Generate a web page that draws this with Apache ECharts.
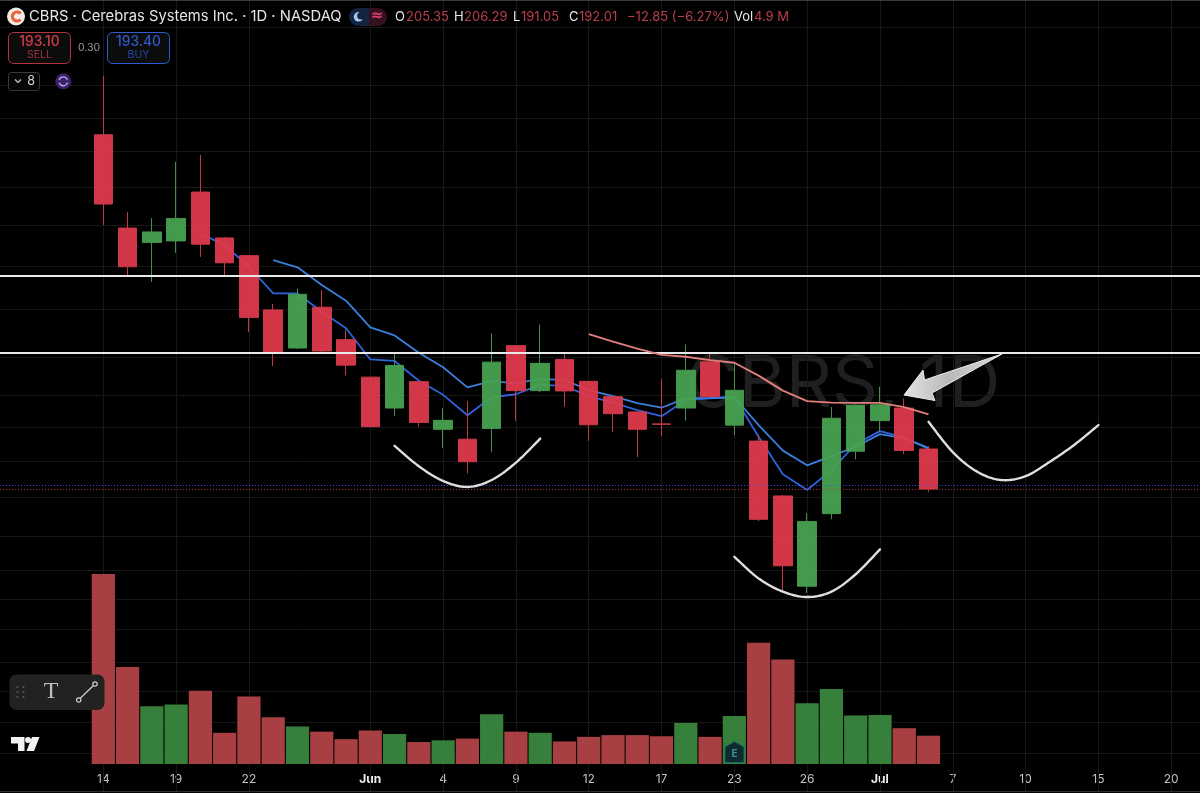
<!DOCTYPE html>
<html>
<head>
<meta charset="utf-8">
<title>CBRS daily</title>
<style>html,body{margin:0;padding:0;background:#000}#chart{width:1200px;height:793px}</style>
<script src="https://cdn.jsdelivr.net/npm/echarts@6/dist/echarts.min.js"></script>
</head>
<body>
<div id="chart"></div>
<script>
// Session dates; the first entries only pad the left edge, the last ones are the empty future.
const leadDays = ['05-08','05-11','05-12','05-13'];
const days = ['05-14','05-15','05-18','05-19','05-20','05-21','05-22','05-26','05-27','05-28','05-29',
  '06-01','06-02','06-03','06-04','06-05','06-08','06-09','06-10','06-11','06-12','06-15','06-16','06-17','06-18',
  '06-22','06-23','06-24','06-25','06-26','06-29','06-30','07-01','07-02','07-06'];
const futureDays = ['07-07','07-08','07-09','07-10','07-13','07-14','07-15','07-16','07-17','07-20','07-21','07-22'];

const tickDates = ['05-14','05-19','05-22','06-01','06-04','06-09','06-12','06-17','06-23','06-26','07-01','07-07','07-10','07-15','07-20'];
const tickLabels = ['14','19','22','Jun','4','9','12','17','23','26','Jul','7','10','15','20'];

// open, close, low, high
const ohlc = [
  [310.1,287.0,280.0,329.7],[279.0,266.1,263.0,284.3],[274.2,277.7,261.0,282.3],[274.7,282.2,270.7,301.0],
  [291.0,273.6,269.4,303.4],[275.7,267.4,263.0,276.0],[269.8,249.2,244.3,270.0],[251.7,237.2,233.0,253.7],
  [239.0,256.9,238.6,258.8],[252.6,238.0,237.4,258.3],[241.8,233.3,229.9,245.2],[229.3,212.8,212.5,229.5],
  [219.0,233.2,216.3,237.3],[227.8,214.2,212.8,228.0],[211.9,214.9,205.7,218.9],[208.6,201.1,197.2,221.3],
  [212.2,234.3,204.3,243.9],[239.8,224.8,214.7,240.0],[224.8,233.9,224.3,246.8],[235.2,224.7,219.4,237.0],
  [227.9,213.4,208.1,228.0],[222.8,217.1,211.0,223.0],[217.7,211.9,202.6,217.8],[213.7,213.6,209.7,228.6],
  [219.0,231.6,214.8,240.2],[234.4,222.8,222.6,237.2],[213.3,224.9,210.0,234.0],[208.0,181.9,181.3,210.0],
  [189.7,166.4,157.8,190.0],[159.6,181.2,157.3,184.0],[183.8,215.6,181.9,219.4],[204.6,219.9,201.9,220.2],
  [214.8,220.1,211.1,226.1],[219.0,204.86,203.7,222.2],[205.35,192.01,191.05,206.29]
];
// Share volume in millions
const volume = [32.9,16.8,10.0,10.3,12.7,5.4,11.7,8.1,6.5,5.6,4.3,5.8,5.2,3.8,4.1,4.4,8.6,5.6,5.4,3.9,4.7,5.0,5.0,4.8,7.1,4.7,8.3,21.0,18.1,10.5,13.0,8.4,8.5,6.2,4.9];

// Moving averages; each starts at the session given by its offset
const fastAvgStart = 4;
const fastAvg = [277.2,273.3,266.1,257.2,257.2,251.1,245.6,235.2,234.7,228.1,223.4,216.6,222.6,223.6,226.8,226.3,223.0,220.8,218.3,216.3,221.7,222.2,222.6,209.4,196.9,191.7,198.3,207.0,211.3,209.2,205.4];
const midAvgStart = 7;
const midAvg = [268.3,265.9,260.0,254.8,245.9,243.2,237.4,232.6,225.9,228.0,227.2,228.7,228.3,225.0,223.0,220.6,219.1,222.3,222.4,222.6,213.3,204.8,199.9,203.0,206.1,210.3,208.9,205.7];
const slowAvgStart = 20;
const slowAvg = [243.6,241.1,238.8,236.7,236.1,235.0,234.1,229.8,224.8,221.3,220.8,220.7,220.7,219.3,216.9];

// Hand-drawn rounded bottoms
const swooshAStart = 12;
const swooshA = [206.4,199.6,194.7,192.7,195.0,200.8,208.8];
const swooshBStart = 26;
const swooshB = [169.4,162.2,157.8,156.0,157.8,163.6,171.9];
const swooshCStart = 34;
const swooshC = [214.4,204.3,197.8,195.0,196.3,201.1,206.7,213.3];

const levels = [263.0,237.3];
const askPrice = 193.40;
const lastPrice = 192.01;
const priceGrid = [346.0,326.7,315.7,304.7,292.7,280.0,266.3,252.0,236.0,223.3,212.7,201.3,189.3,176.3,165.0,155.3,145.3,134.3,124.7,114.3,104.0];
const priceMin = 90.68, priceMax = 355.01, volumeMax = 34.62;

const categories = leadDays.concat(days, futureDays);
const lead = leadDays.length;
const aligned = (values, start) => Array(lead + start).fill(null).concat(values);

const RED = '#e03a4b', GREEN = '#47a452';
const candleData = Array(lead).fill(['-','-','-','-']).concat(ohlc);
const volumeData = Array(lead).fill(null).concat(volume.map((v, i) => ({
  value: v,
  itemStyle: { color: ohlc[i][1] > ohlc[i][0] ? '#37803b' : '#a84043' }
})));

// Spline through screen positions of the anchor points, for a freehand-looking stroke
function splinePoints(p) {
  const out = [];
  for (let i = 0; i < p.length - 1; i++) {
    const a = p[Math.max(i - 1, 0)], b = p[i], c = p[i + 1], d = p[Math.min(i + 2, p.length - 1)];
    for (let s = 0; s < 12; s++) {
      const t = s / 12, t2 = t * t, t3 = t2 * t;
      out.push([0, 1].map(k => 0.5 * (2 * b[k] + (c[k] - a[k]) * t
        + (2 * a[k] - 5 * b[k] + 4 * c[k] - d[k]) * t2
        + (3 * b[k] - a[k] - 3 * c[k] + d[k]) * t3)));
    }
  }
  out.push(p[p.length - 1]);
  return out;
}
const swoosh = (values, start) => ({
  type: 'custom', xAxisIndex: 0, yAxisIndex: 0, z: 6, silent: true,
  encode: { x: 0, y: 1 }, clip: false,
  data: values.map((v, i) => [lead + start + i, v]),
  renderItem: (params, api) => {
    if (params.dataIndex !== 0) return null;
    const anchors = values.map((v, i) => api.coord([lead + start + i, v]));
    return {
      type: 'polyline', silent: true,
      shape: { points: splinePoints(anchors) },
      style: { stroke: '#dedede', lineWidth: 2.4, fill: null, lineCap: 'round', lineJoin: 'round' }
    };
  }
});
const avgLine = (values, start, color, z) => ({
  type: 'line', xAxisIndex: 0, yAxisIndex: 0, data: aligned(values, start), symbol: 'none', z, silent: true,
  lineStyle: { color, width: 1.8 }
});

const ink = '#e6e6e6', quoteRed = '#b8404c';
const label = (text, x, y, fill, font, align) => ({
  type: 'text', z: 20, silent: true,
  style: { text, x, y, fill, font: font || '13px Inter', textAlign: align || 'left', textVerticalAlign: 'middle' }
});
const box = (x, y, width, height, r, fill, stroke, z) => ({
  type: 'rect', z: z || 19, silent: true,
  shape: { x, y, width, height, r },
  style: { fill, stroke, lineWidth: stroke ? 1 : 0 }
});
const dot = (cx, cy, r, fill, stroke, z) => ({
  type: 'circle', z: z || 20, silent: true, shape: { cx, cy, r },
  style: { fill, stroke, lineWidth: stroke ? 1.2 : 0 }
});
const poly = (points, fill, stroke, z) => ({
  type: 'polygon', z: z || 20, silent: true, shape: { points },
  style: { fill, stroke: stroke || null, lineWidth: stroke ? 1 : 0 }
});

const overlays = [
  // Symbol watermark behind the candles
  { type: 'text', z: 0, silent: true,
    style: { text: 'CBRS, 1D', x: 686, y: 385, fill: '#1f1f1f', font: '400 72px Inter', textVerticalAlign: 'middle' } },

  // Frame hairlines
  box(0, 0, 1200, 1, 0, '#3a3a3a'),
  box(0, 791, 1200, 1, 0, '#2e2e2e'),

  // Symbol logo and title
  dot(16, 16.5, 9, '#f4ebe4'),
  { type: 'arc', z: 21, silent: true, shape: { cx: 17, cy: 16.5, r: 4.6, startAngle: 0.7, endAngle: 5.6 },
    style: { stroke: '#e2633a', lineWidth: 3, fill: null } },
  label('CBRS · Cerebras Systems Inc. · 1D · NASDAQ', 29, 17, ink, '14.75px Inter'),

  // Market status pill
  box(349, 8, 20, 18, [9, 0, 0, 9], '#13233f'),
  box(369, 8, 18, 18, [0, 9, 9, 0], '#35101f'),
  dot(358.5, 16.8, 4.8, '#a6c4f2'),
  dot(361, 15.8, 3.8, '#13233f', null, 21),
  label('≈', 377, 16.5, '#e2426f', '700 15px "DejaVu Sans"', 'center'),

  // Open, high, low, close readout
  label('O', 395, 17, ink), label('205.35', 406, 17, quoteRed),
  label('H', 454, 17, ink), label('206.29', 464, 17, quoteRed),
  label('L', 513, 17, ink), label('191.05', 521, 17, quoteRed),
  label('C', 569, 17, ink), label('192.01', 579, 17, quoteRed),
  label('−12.85 (−6.27%)', 627, 17, quoteRed),
  label('Vol', 734, 17, ink), label('4.9 M', 754, 17, quoteRed),

  // Quote buttons
  box(8.5, 32.5, 62, 31, 5, '#0c0c0c', '#b3363f'),
  label('193.10', 39.5, 42, '#d23c49', '500 13.8px Inter', 'center'),
  label('SELL', 39.5, 55, '#9c333b', '10.5px Inter', 'center'),
  label('0.30', 89, 48, '#9a9a9a', '10.5px Inter', 'center'),
  box(107.5, 32.5, 62, 31, 5, '#0c0c0c', '#2f5bd0'),
  label('193.40', 138.5, 42, '#2f58c8', '500 13.8px Inter', 'center'),
  label('BUY', 138.5, 55, '#2747a0', '10.5px Inter', 'center'),

  // Collapsed indicator counter and sync badge
  box(8.5, 72.5, 31, 18, 3, '#060606', '#3a3a3a'),
  { type: 'polyline', z: 21, silent: true, shape: { points: [[15, 79.5], [18, 82.5], [21, 79.5]] },
    style: { stroke: '#cfcfcf', lineWidth: 1.2, fill: null } },
  label('8', 31, 81.5, '#d4d4d4', '12.5px Inter', 'center'),
  dot(63.3, 81.3, 8, '#3a2368'),
  { type: 'arc', z: 21, silent: true, shape: { cx: 63.3, cy: 81.3, r: 4.4, startAngle: 0.3, endAngle: 2.8 },
    style: { stroke: '#c6a3f0', lineWidth: 1.4, fill: null } },
  { type: 'arc', z: 21, silent: true, shape: { cx: 63.3, cy: 81.3, r: 4.4, startAngle: 3.44, endAngle: 5.94 },
    style: { stroke: '#c6a3f0', lineWidth: 1.4, fill: null } },

  // Floating drawing toolbar
  box(9.5, 674.5, 95, 35.5, 7, '#222222'),
  dot(17.5, 687, 1, '#5c5c5c'), dot(23.5, 687, 1, '#5c5c5c'),
  dot(17.5, 692, 1, '#5c5c5c'), dot(23.5, 692, 1, '#5c5c5c'),
  dot(17.5, 697, 1, '#5c5c5c'), dot(23.5, 697, 1, '#5c5c5c'),
  label('T', 51, 692, '#bdbdbd', '24px "Liberation Serif"', 'center'),
  { type: 'line', z: 21, silent: true, shape: { x1: 80, y1: 698.5, x2: 93.5, y2: 685.5 },
    style: { stroke: '#cfcfcf', lineWidth: 1.2 } },
  dot(78.7, 700, 2.2, '#222222', '#cfcfcf', 22),
  dot(95, 684, 2.2, '#222222', '#cfcfcf', 22),

  // Platform mark
  poly([[11, 737], [24.5, 737], [24.5, 751], [18, 751], [18, 743.5], [11, 743.5]], '#f2f2f2'),
  dot(28, 740, 3, '#f2f2f2'),
  poly([[32, 737], [39.5, 737], [34, 751], [26.5, 751]], '#f2f2f2'),

  // Earnings flag on the volume bar
  poly([[734.5, 741.5], [744, 747], [744, 762.5], [725, 762.5], [725, 747]], '#0d2a2e', '#1c6a68', 21),
  { type: 'text', z: 22, silent: true,
    style: { text: 'E', x: 734.5, y: 753.5, fill: '#3f8f8e', font: '700 10px Inter', textAlign: 'center', textVerticalAlign: 'middle' } },

  // Arrow pointing at the rejection candle
  { type: 'polygon', z: 22, silent: true,
    shape: { points: [[904, 395], [923, 370], [924.5, 380], [1002, 354], [932, 393], [935, 400.5]] },
    style: {
      fill: new echarts.graphic.LinearGradient(0, 0, 1, 0, [
        { offset: 0, color: '#e4e4e4' }, { offset: 0.45, color: '#b9b9b9' }, { offset: 1, color: '#d9d9d9' }
      ]),
      stroke: '#ececec', lineWidth: 1
    } }
];

const chart = echarts.init(document.getElementById('chart'), null, { renderer: 'canvas' });
chart.setOption({
  animation: false,
  backgroundColor: '#000000',
  tooltip: { show: false },
  legend: { show: false },
  graphic: { elements: overlays },
  grid: [
    { left: -5.9, width: 1237.8, top: 0, height: 793, containLabel: false, outerBoundsMode: 'none' },
    { left: -5.9, width: 1237.8, top: 564, height: 200, containLabel: false, outerBoundsMode: 'none' }
  ],
  xAxis: [
    { type: 'category', gridIndex: 0, data: categories, show: false },
    { type: 'category', gridIndex: 1, data: categories,
      axisLine: { show: false }, axisTick: { show: false }, splitLine: { show: false },
      axisLabel: {
        margin: 9, fontFamily: 'Inter', fontSize: 12, color: '#c4c4c4',
        interval: (i, value) => tickDates.includes(value),
        formatter: value => {
          const text = tickLabels[tickDates.indexOf(value)];
          return /[A-Z]/.test(text) ? '{month|' + text + '}' : text;
        },
        rich: { month: { fontFamily: 'Inter', fontSize: 12, fontWeight: 700, color: '#eeeeee' } }
      } }
  ],
  yAxis: [
    { type: 'value', gridIndex: 0, min: priceMin, max: priceMax, scale: true, show: false },
    { type: 'value', gridIndex: 1, min: 0, max: volumeMax, show: false }
  ],
  series: [
    // Chart grid
    { type: 'line', xAxisIndex: 0, yAxisIndex: 0, data: [], z: 1, silent: true,
      markLine: {
        z: 1, silent: true, symbol: 'none', animation: false, label: { show: false },
        lineStyle: { color: '#171717', width: 1, type: 'solid' },
        data: priceGrid.map(p => ({ yAxis: p })).concat(tickDates.map(d => ({ xAxis: d })))
      } },
    { type: 'bar', xAxisIndex: 1, yAxisIndex: 1, data: volumeData, barWidth: 23.2, z: 2, silent: true },
    avgLine(fastAvg, fastAvgStart, '#2f63dc', 2),
    avgLine(midAvg, midAvgStart, '#3a7fdc', 2),
    { type: 'candlestick', xAxisIndex: 0, yAxisIndex: 0, data: candleData, barWidth: 19, z: 3, silent: true,
      itemStyle: {
        color: GREEN, color0: RED, borderColor: '#48994f', borderColor0: '#cf3b49', borderColorDoji: '#cf3b49',
        borderWidth: 1, opacity: 0.94
      } },
    // Horizontal levels and quote lines
    { type: 'line', xAxisIndex: 0, yAxisIndex: 0, data: [], z: 4, silent: true,
      markLine: {
        z: 4, silent: true, symbol: 'none', animation: false, label: { show: false },
        data: levels.map(p => ({ yAxis: p, lineStyle: { color: '#e9e9e9', width: 2, type: 'solid' } })).concat([
          { yAxis: askPrice, lineStyle: { color: '#4a50e0', width: 1, type: [1, 2] } },
          { yAxis: lastPrice, lineStyle: { color: '#c03a3a', width: 1, type: [1, 2] } }
        ])
      } },
    avgLine(slowAvg, slowAvgStart, '#e07f7c', 5),
    swoosh(swooshA, swooshAStart),
    swoosh(swooshB, swooshBStart),
    swoosh(swooshC, swooshCStart)
  ]
});
</script>
</body>
</html>
